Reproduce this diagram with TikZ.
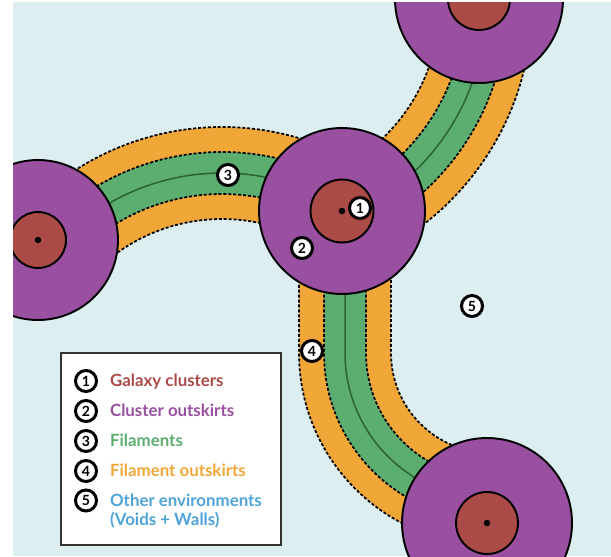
\documentclass[tikz,border=0pt]{standalone}
\usepackage{fontspec}
\setmainfont{Lato}
\usetikzlibrary{positioning}

\definecolor{clbg}{HTML}{DCEEF0}
\definecolor{clpurple}{HTML}{9A50A0}
\definecolor{clred}{HTML}{AA4B48}
\definecolor{clgreen}{HTML}{5CAE70}
\definecolor{clorange}{HTML}{F0A738}
\definecolor{clspine}{HTML}{2A6236}
\definecolor{clblue}{HTML}{4EA4D8}

\begin{document}
\begin{tikzpicture}[
    x=0.02cm, y=0.02cm,
    outskirt/.style={circle, draw=black, fill=clpurple, line width=1.1pt, inner sep=0pt, minimum size=#1},
    core/.style={circle, draw=black, fill=clred, line width=1.1pt, inner sep=0pt, minimum size=#1},
    dot/.style={circle, fill=black, inner sep=0pt, minimum size=0.13cm},
    outband/.style={clorange, line width=1.84cm},
    filband/.style={clgreen, line width=0.84cm},
    rim/.style={black, line width=1pt, dash pattern=on 1.7pt off 1.1pt},
    spine/.style={clspine, line width=0.85pt},
    num/.style={circle, draw=black, fill=white, line width=1.7pt, inner sep=0pt, minimum size=0.42cm, font=\fontsize{8}{8}\selectfont\bfseries},
    legbox/.style={draw=black!80, fill=white, line width=1.3pt, minimum width=4.4cm, minimum height=3.84cm},
    legtext/.style={text=#1, font=\fontsize{9.6}{10}\selectfont\bfseries, inner sep=1pt, text height=1.5ex, text depth=0.25ex},
]
    \useasboundingbox (0,0) rectangle (611,556);
    \fill[clbg] (13,0) rectangle (611,554);
    \clip (13,0) rectangle (611,554);

    %centres
    \coordinate (c0) at (342,345);
    \coordinate (c1) at (38,316);
    \coordinate (c2) at (479,557);
    \coordinate (c3) at (487,33);
    \coordinate (f1) at (222,158);
    \coordinate (f2) at (254,552);
    \coordinate (f3) at (491,203);

    %filaments
    \draw[outband] (f1) ++(57:225) arc[start angle=57, end angle=140, radius=225];
    \draw[outband] (f2) ++(-68:232) arc[start angle=-68, end angle=10, radius=232];
    \draw[outband] (f3) ++(-146,142) -- ++(0,-142) arc[start angle=180, end angle=270, radius=146];
    \draw[filband] (f1) ++(57:225) arc[start angle=57, end angle=140, radius=225];
    \draw[filband] (f2) ++(-68:232) arc[start angle=-68, end angle=10, radius=232];
    \draw[filband] (f3) ++(-146,142) -- ++(0,-142) arc[start angle=180, end angle=270, radius=146];
    \foreach \rad in {179,204,246,271}
        \draw[rim] (f1) ++(57:\rad) arc[start angle=57, end angle=140, radius=\rad];
    \foreach \rad in {186,211,253,278}
        \draw[rim] (f2) ++(-68:\rad) arc[start angle=-68, end angle=10, radius=\rad];
    \foreach \rad in {100,125,167,192}
        \draw[rim] (f3) ++(-\rad,142) -- ++(0,-142) arc[start angle=180, end angle=270, radius=\rad];
    \draw[spine] (f1) ++(57:225) arc[start angle=57, end angle=140, radius=225];
    \draw[spine] (f2) ++(-68:232) arc[start angle=-68, end angle=10, radius=232];
    \draw[spine] (f3) ++(-146,142) -- ++(0,-142) arc[start angle=180, end angle=270, radius=146];

    %clusters
    \node[outskirt=3.32cm] (o0) at (c0) {};
    \node[core=1.26cm] (k0) at (c0) {};
    \node[dot] (d0) at (c0) {};
    \node[outskirt=3.2cm] (o1) at (c1) {};
    \node[core=1.12cm] (k1) at (c1) {};
    \node[dot] (d1) at (c1) {};
    \node[outskirt=3.36cm] (o2) at (c2) {};
    \node[core=1.24cm] (k2) at (c2) {};
    \node[dot] (d2) at (c2) {};
    \node[outskirt=3.4cm] (o3) at (c3) {};
    \node[core=1.24cm] (k3) at (c3) {};
    \node[dot] (d3) at (c3) {};

    %labels
    \node[num] (n1) at (360,348) {1};
    \node[num] (n2) at (302,308) {2};
    \node[num] (n3) at (228,381) {3};
    \node[num] (n4) at (312,205) {4};
    \node[num] (n5) at (472,250) {5};

    %legend
    \node[legbox] (legend) at (171,107) {};
    \node[num] (l1) at (86,175) {1};
    \node[num, on grid, below=0.6cm of l1] (l2) {2};
    \node[num, on grid, below=0.6cm of l2] (l3) {3};
    \node[num, on grid, below=0.6cm of l3] (l4) {4};
    \node[num, on grid, below=0.59cm of l4] (l5) {5};
    \node[legtext=clred, right=0.2cm of l1] (t1) {Galaxy clusters};
    \node[legtext=clpurple, right=0.2cm of l2] (t2) {Cluster outskirts};
    \node[legtext=clgreen, right=0.2cm of l3] (t3) {Filaments};
    \node[legtext=clorange, right=0.2cm of l4] (t4) {Filament outskirts};
    \node[legtext=clblue, right=0.2cm of l5] (t5) {Other environments};
    \node[legtext=clblue, below=0.38cm of t5.west, anchor=west] (t6) {(Voids + Walls)};
\end{tikzpicture}
\end{document}
